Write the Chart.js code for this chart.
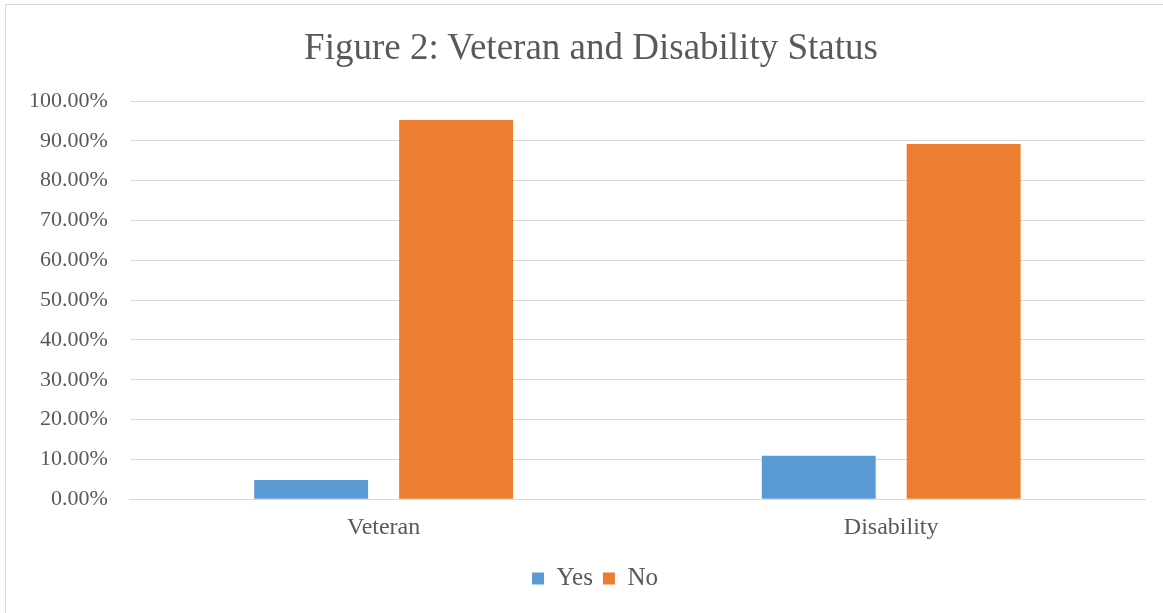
<!DOCTYPE html>
<html>
<head>
<meta charset="utf-8">
<script src="https://cdn.jsdelivr.net/npm/chart.js@4.4.0/dist/chart.umd.min.js"></script>
<style>
    html, body { margin: 0; padding: 0; background: #ffffff; overflow: hidden; }
    #wrap { position: absolute; left: 0; top: 0; width: 1163px; height: 613px; }
    #frame { position: absolute; left: 5px; top: 4px; width: 1170px; height: 620px; border: 1px solid #d9d9d9; pointer-events: none; }
    #title { position: absolute; left: 5px; top: 25px; width: 1172px; text-align: center;
             font: 37px 'Liberation Serif', 'Times New Roman', serif; line-height: 44px; color: #595959; }
</style>
</head>
<body>
<div id="wrap"><canvas id="chart" width="1163" height="613"></canvas></div>
<div id="frame"></div>
<div id="title">Figure 2: Veteran and Disability Status</div>
<script>
const categories = ["Veteran", "Disability"];
const yesValues = [4.8, 10.9];
const noValues = [95.2, 89.2];
const seriesNames = ["Yes", "No"];

const textColor = "#595959";
const gridColor = "#d9d9d9";
const serif = "'Liberation Serif', 'Times New Roman', serif";

// the legend sits centred on the outer frame, not on the canvas
const legendShift = {
    id: "legendShift",
    afterLayout(chart) {
        chart.legend.left += 19;
        chart.legend.right += 19;
    }
};

new Chart(document.getElementById("chart"), {
    type: "bar",
    data: {
        labels: categories,
        datasets: [
            { label: seriesNames[0], data: yesValues, backgroundColor: "#5b9bd5" },
            { label: seriesNames[1], data: noValues, backgroundColor: "#ed7d31" }
        ]
    },
    plugins: [legendShift],
    options: {
        responsive: false,
        animation: false,
        categoryPercentage: 0.571,
        barPercentage: 0.786,
        layout: { padding: { left: 7, right: 18, top: 101, bottom: 12 } },
        plugins: {
            title: { display: false },
            legend: {
                position: "bottom",
                labels: {
                    color: textColor,
                    boxWidth: 12,
                    boxHeight: 12,
                    padding: 10,
                    font: { family: serif, size: 25 }
                }
            },
            tooltip: { enabled: false }
        },
        scales: {
            x: {
                grid: { display: false, drawTicks: false },
                border: { display: true, color: gridColor },
                ticks: { color: textColor, font: { family: serif, size: 24 }, padding: 14 }
            },
            y: {
                min: 0,
                max: 100,
                grid: { color: gridColor, drawTicks: false, tickLength: 0 },
                border: { display: false },
                ticks: {
                    stepSize: 10,
                    color: textColor,
                    font: { family: serif, size: 22 },
                    padding: 22,
                    callback: v => v.toFixed(2) + "%"
                }
            }
        }
    }
});
</script>
</body>
</html>
